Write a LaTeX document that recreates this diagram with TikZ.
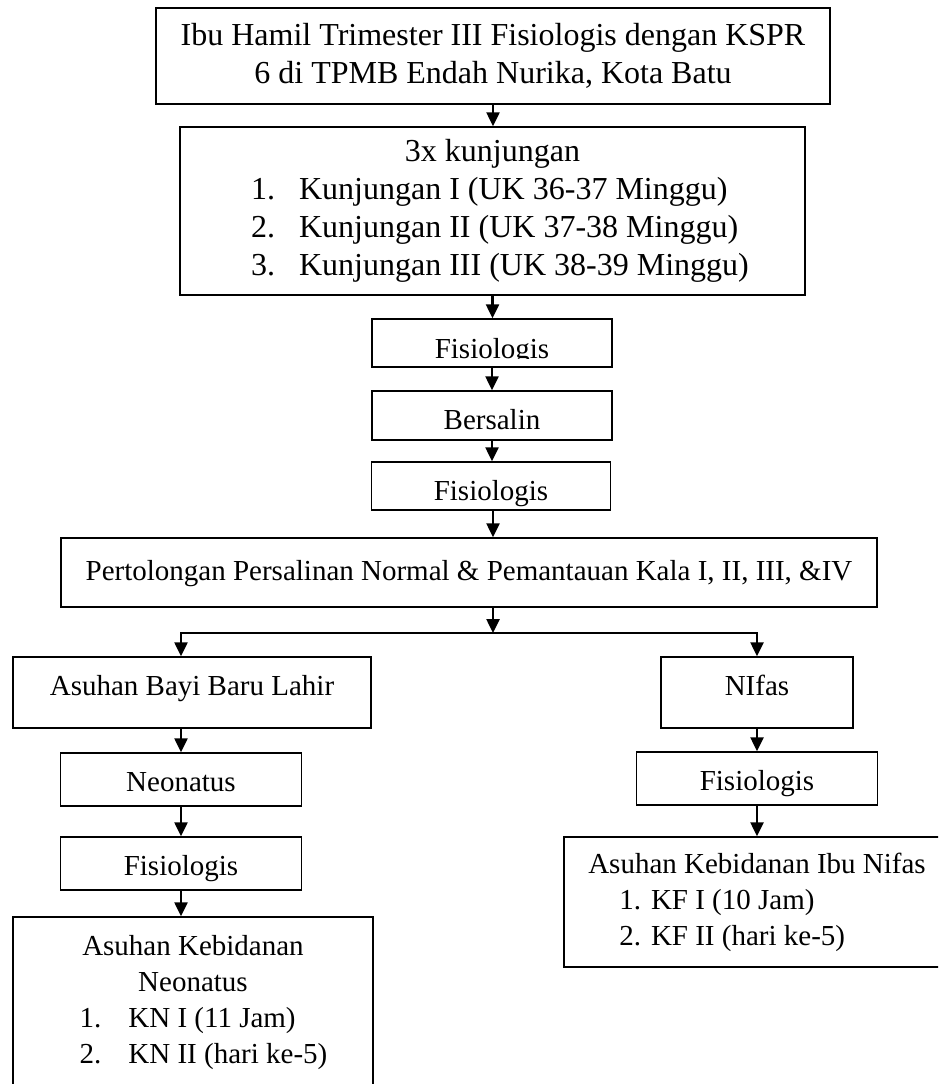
\documentclass[tikz,border=0pt]{standalone}
\usepackage{fontspec}
\setmainfont{Liberation Serif}
\usetikzlibrary{arrows.meta}

\newcommand{\hurufbesar}{\fontsize{32}{38}\selectfont}
\newcommand{\hurufkecil}{\fontsize{29}{36}\selectfont}

\begin{document}
\begin{tikzpicture}[x=1pt, y=-1pt,
  kotak/.style={draw, line width=1.5pt, inner sep=0pt, align=center, font=\hurufkecil},
  teks/.style={text height=#1, text depth=0pt},
  panah/.style={line width=2.5pt, -{Triangle[length=14pt,width=13pt]}}]

\useasboundingbox (0,0) rectangle (938,1084);
\clip (0,0) rectangle (938,1084);

\node[kotak, font=\hurufbesar, minimum width=674pt, minimum height=96pt] (ibu) at (493,56)
  {Ibu Hamil Trimester III Fisiologis dengan KSPR\\6 di TPMB Endah Nurika, Kota Batu};

\node[kotak, font=\hurufbesar, minimum width=625pt, minimum height=168pt] (kunj) at (492.5,211)
  {\begin{tabular}{@{\hspace{15pt}}l@{\hspace{24pt}}l@{}}
   \multicolumn{2}{@{}c@{}}{3x kunjungan}\\
   1.&Kunjungan I (UK 36-37 Minggu)\\
   2.&Kunjungan II (UK 37-38 Minggu)\\
   3.&Kunjungan III (UK 38-39 Minggu)
   \end{tabular}};

\node[kotak, minimum width=240pt, minimum height=48pt] (fis1) at (492,343) {};
\coordinate (batasfis1) at (612,358);
\begin{scope}
\clip (fis1.north west) rectangle (batasfis1);
\node[font=\hurufkecil, anchor=base, inner sep=0pt] (teksfis1) at (fis1 |- batasfis1) {Fisiologis};
\end{scope}

\node[kotak, teks=27pt, minimum width=240pt, minimum height=49pt] (salin) at (492,415.5) {Bersalin};
\node[kotak, teks=28pt, minimum width=239pt, minimum height=48pt] (fis2) at (491,486) {Fisiologis};

\node[kotak, teks=15pt, minimum width=816pt, minimum height=69pt] (tolong) at (469,572.5)
  {Pertolongan Persalinan Normal \& Pemantauan Kala I, II, III, \&IV};

\node[kotak, teks=5pt, minimum width=358pt, minimum height=71pt] (bayi) at (192,692.5) {Asuhan Bayi Baru Lahir};
\node[kotak, teks=23pt, minimum width=241pt, minimum height=53pt] (neo) at (181,779.5) {Neonatus};
\node[kotak, teks=23pt, minimum width=241pt, minimum height=53pt] (fisKiri) at (181,863.5) {Fisiologis};
\node[kotak, minimum width=360pt, minimum height=206pt] (kebNeo) at (193,1020)
  {\begin{tabular}{@{\hspace{21pt}}l@{\hspace{27pt}}l@{}}
   \multicolumn{2}{@{}c@{}}{Asuhan Kebidanan}\\
   \multicolumn{2}{@{}c@{}}{Neonatus}\\
   1.&KN I (11 Jam)\\
   2.&KN II (hari ke-5)\\
   &
   \end{tabular}};

\node[kotak, teks=5pt, minimum width=192pt, minimum height=71pt] (nifas) at (757,692.5) {NIfas};
\node[kotak, teks=23pt, minimum width=241pt, minimum height=53pt] (fisKanan) at (757,778.5) {Fisiologis};
\node[kotak, minimum width=386pt, minimum height=130pt] (kebNifas) at (757,902)
  {\begin{tabular}{@{\hspace{31pt}}l@{\hspace{10pt}}l@{}}
   \multicolumn{2}{@{}c@{}}{Asuhan Kebidanan Ibu Nifas}\\
   1.&KF I (10 Jam)\\
   2.&KF II (hari ke-5)
   \end{tabular}};

\coordinate (cabang) at (493,633);
\coordinate (cabKiri) at (neo |- cabang);
\coordinate (cabKanan) at (nifas |- cabang);

\draw[panah] (ibu.south) -- (ibu.south |- kunj.north);
\draw[panah] (kunj.south) -- (kunj.south |- fis1.north);
\draw[panah] (fis1.south) -- (fis1.south |- salin.north);
\draw[panah] (salin.south) -- (salin.south |- fis2.north);
\draw[panah] (ibu.south |- fis2.south) -- (ibu.south |- tolong.north);
\draw[panah] (ibu.south |- tolong.south) -- (cabang);

\draw[panah] (cabKanan) -- (cabKiri) -- (cabKiri |- bayi.north);
\draw[panah] (cabKiri) -- (cabKanan) -- (cabKanan |- nifas.north);

\draw[panah] (neo.north |- bayi.south) -- (neo.north);
\draw[panah] (neo.south) -- (neo.south |- fisKiri.north);
\draw[panah] (fisKiri.south) -- (fisKiri.south |- kebNeo.north);

\draw[panah] (nifas.south) -- (nifas.south |- fisKanan.north);
\draw[panah] (fisKanan.south) -- (fisKanan.south |- kebNifas.north);

\end{tikzpicture}
\end{document}
